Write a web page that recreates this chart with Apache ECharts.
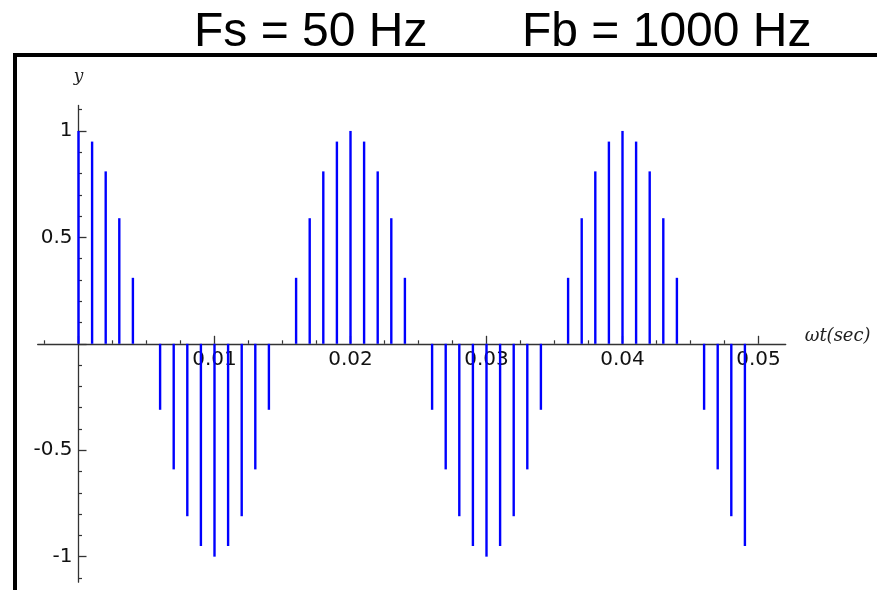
<!DOCTYPE html>
<html>
<head>
<meta charset="utf-8">
<title>Fs = 50 Hz  Fb = 1000 Hz</title>
<script src="https://cdn.jsdelivr.net/npm/echarts@6/dist/echarts.min.js"></script>
<style>
  html, body { margin: 0; padding: 0; background: #fff; }
  #chart { width: 877px; height: 590px; }
</style>
</head>
<body>
<div id="chart"></div>
<script>
var times = [
  0, 0.001, 0.002, 0.003, 0.004, 0.005, 0.006, 0.007, 0.008, 0.009,
  0.010, 0.011, 0.012, 0.013, 0.014, 0.015, 0.016, 0.017, 0.018, 0.019,
  0.020, 0.021, 0.022, 0.023, 0.024, 0.025, 0.026, 0.027, 0.028, 0.029,
  0.030, 0.031, 0.032, 0.033, 0.034, 0.035, 0.036, 0.037, 0.038, 0.039,
  0.040, 0.041, 0.042, 0.043, 0.044, 0.045, 0.046, 0.047, 0.048, 0.049
];
var samples = [
  1, 0.95, 0.81, 0.59, 0.31, 0, -0.31, -0.59, -0.81, -0.95,
  -1, -0.95, -0.81, -0.59, -0.31, 0, 0.31, 0.59, 0.81, 0.95,
  1, 0.95, 0.81, 0.59, 0.31, 0, -0.31, -0.59, -0.81, -0.95,
  -1, -0.95, -0.81, -0.59, -0.31, 0, 0.31, 0.59, 0.81, 0.95,
  1, 0.95, 0.81, 0.59, 0.31, 0, -0.31, -0.59, -0.81, -0.95
];

// axis ticks / labels
var xLabels = [0.01, 0.02, 0.03, 0.04, 0.05];
var xMajorTicks = [0, 0.01, 0.02, 0.03, 0.04, 0.05];
var xMinorTicks = [-0.0025, 0.0025, 0.005, 0.0075, 0.0125, 0.015, 0.0175, 0.0225, 0.025, 0.0275,
  0.0325, 0.035, 0.0375, 0.0425, 0.045, 0.0475];
var yLabels = [-1, -0.5, 0.5, 1];
var yMajorTicks = [-1, -0.5, 0, 0.5, 1];
var yMinorTicks = [-1.1, -0.9, -0.8, -0.7, -0.6, -0.4, -0.3, -0.2, -0.1,
  0.1, 0.2, 0.3, 0.4, 0.6, 0.7, 0.8, 0.9, 1.1];

var stemData = [];
for (var i = 0; i < times.length; i++) {
  stemData.push([times[i], samples[i]]);
}

var xMin = -0.003, xMax = 0.052, yMin = -1.12, yMax = 1.12;
var gridLeft = 37.7, gridRight = 91.3, gridTop = 105.4, gridBottom = 7.8;
var gridW = 877 - gridLeft - gridRight;
var gridH = 590 - gridTop - gridBottom;
// the axes cross at zero: shift them from the grid edges onto the zero lines
var xAxisShift = -gridH * (0 - yMin) / (yMax - yMin);
var yAxisShift = -gridW * (0 - xMin) / (xMax - xMin);

var axisColor = '#333';
var labelFont = { fontFamily: 'DejaVu Sans', fontSize: 20, color: '#111' };
var titleFont = { fontFamily: 'Liberation Sans', fontSize: 48, fontWeight: 'normal', color: '#000' };

var myChart = echarts.init(document.getElementById('chart'), null, { renderer: 'canvas' });

var option = {
  backgroundColor: '#fff',
  animation: false,
  title: [
    { text: 'Fs = 50 Hz', left: 194, top: 9, padding: 0, textStyle: titleFont },
    { text: 'Fb = 1000 Hz', left: 522, top: 9, padding: 0, textStyle: titleFont }
  ],
  graphic: [{
    type: 'polyline',
    shape: { points: [[15, 600], [15, 55], [890, 55]] },
    style: { stroke: '#000', lineWidth: 4, fill: null }
  }],
  grid: {
    left: gridLeft,
    right: gridRight,
    top: gridTop,
    bottom: gridBottom,
    outerBoundsMode: 'none'
  },
  xAxis: [
    {
      type: 'value',
      min: xMin,
      max: xMax,
      position: 'bottom',
      offset: xAxisShift,
      name: 'ωt(sec)',
      nameLocation: 'end',
      nameGap: 19,
      nameTextStyle: {
        fontFamily: 'DejaVu Serif', fontStyle: 'italic', fontSize: 18, color: '#222',
        verticalAlign: 'bottom', lineHeight: 14
      },
      axisLine: { show: true, onZero: false, lineStyle: { color: axisColor, width: 1.3 } },
      axisTick: { show: true, inside: true, length: 8, customValues: xMajorTicks,
        lineStyle: { color: axisColor, width: 1.3 } },
      axisLabel: { show: true, margin: 6, customValues: xLabels, textStyle: labelFont,
        formatter: function (v) { return String(+v.toFixed(3)); } },
      splitLine: { show: false }
    },
    {
      type: 'value',
      min: xMin,
      max: xMax,
      position: 'bottom',
      offset: xAxisShift,
      axisLine: { show: false, onZero: false },
      axisTick: { show: true, inside: true, length: 3.5, customValues: xMinorTicks,
        lineStyle: { color: axisColor, width: 1.2 } },
      axisLabel: { show: false },
      splitLine: { show: false }
    }
  ],
  yAxis: [
    {
      type: 'value',
      min: yMin,
      max: yMax,
      position: 'left',
      offset: yAxisShift,
      name: 'y',
      nameLocation: 'end',
      nameGap: 20,
      nameTextStyle: { fontFamily: 'DejaVu Serif', fontStyle: 'italic', fontSize: 17, color: '#222' },
      axisLine: { show: true, onZero: false, lineStyle: { color: axisColor, width: 1.3 } },
      axisTick: { show: true, inside: true, length: 8, customValues: yMajorTicks,
        lineStyle: { color: axisColor, width: 1.3 } },
      axisLabel: { show: true, margin: 6, customValues: yLabels, textStyle: labelFont },
      splitLine: { show: false }
    },
    {
      type: 'value',
      min: yMin,
      max: yMax,
      position: 'left',
      offset: yAxisShift,
      axisLine: { show: false, onZero: false },
      axisTick: { show: true, inside: true, length: 3.5, customValues: yMinorTicks,
        lineStyle: { color: axisColor, width: 1.2 } },
      axisLabel: { show: false },
      splitLine: { show: false }
    }
  ],
  series: [{
    type: 'bar',
    xAxisIndex: 0,
    yAxisIndex: 0,
    barWidth: 2.4,
    itemStyle: { color: '#0000ff' },
    data: stemData
  }]
};

myChart.setOption(option);
</script>
</body>
</html>
